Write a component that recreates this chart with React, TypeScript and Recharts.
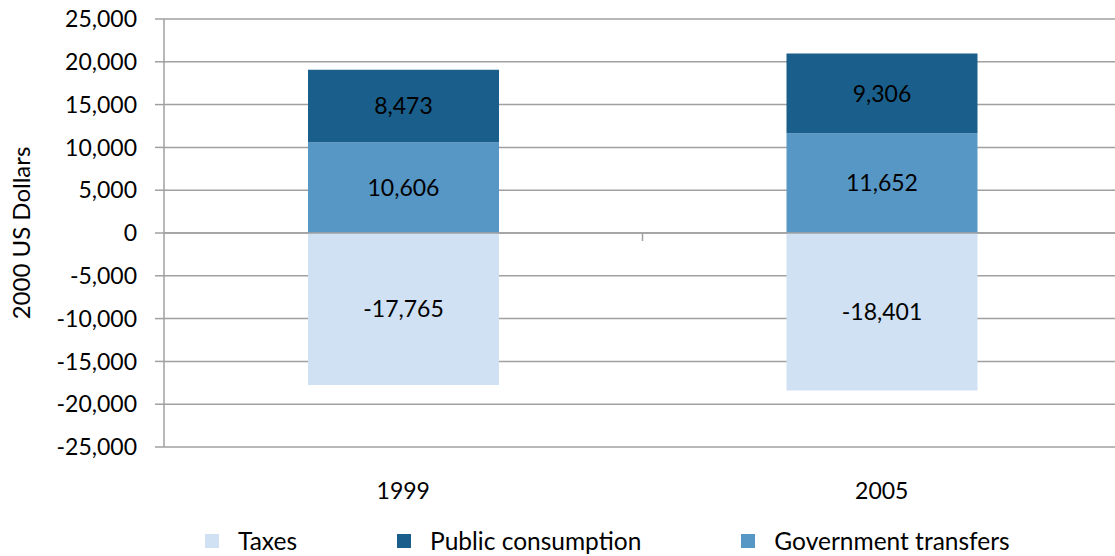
import React from "react";
import {
  Bar,
  BarChart,
  CartesianGrid,
  LabelList,
  ReferenceLine,
  XAxis,
  YAxis,
} from "recharts";

const years = ["1999", "2005"];
const taxes = [-17765, -18401];
const transfers = [10606, 11652];
const consumption = [8473, 9306];
const yTicks = [-25000, -20000, -15000, -10000, -5000, 0, 5000, 10000, 15000, 20000, 25000];

const SERIES = [
  { key: "taxes", name: "Taxes", color: "#cfe1f2" },
  { key: "consumption", name: "Public consumption", color: "#1a5f8b" },
  { key: "transfers", name: "Government transfers", color: "#5797c6" },
];

const FONT = "Lato, 'Noto Sans', sans-serif";
const GRID = "#a0a0a0";

const data = years.map((year, i) => ({
  year,
  taxes: taxes[i],
  transfers: transfers[i],
  consumption: consumption[i],
}));

const fmt = (v: number) => v.toLocaleString("en-US");

// zero line with the small category-separator tick in the middle
const ZeroLine = (props: any) => {
  const { x1, x2, y1 } = props;
  const mid = (x1 + x2) / 2;
  return (
    <g>
      <line x1={x1} x2={x2} y1={y1} y2={y1} stroke={GRID} strokeWidth={1.5} />
      <line x1={mid} x2={mid} y1={y1} y2={y1 + 8} stroke={GRID} strokeWidth={1.5} />
    </g>
  );
};

const YLabel = (props: any) => {
  const { viewBox } = props;
  const cx = viewBox.x + 20;
  const cy = viewBox.y + viewBox.height / 2;
  return (
    <text
      x={cx}
      y={cy}
      transform={`rotate(-90 ${cx} ${cy})`}
      textAnchor="middle"
      dominantBaseline="central"
      fill="#000"
      fontSize={24}
    >
      2000 US Dollars
    </text>
  );
};

export default function App() {
  return (
    <div
      style={{
        position: "absolute",
        left: 0,
        top: 0,
        width: 1115,
        height: 556,
        overflow: "hidden",
        fontFamily: FONT,
        background: "#fff",
      }}
    >
      <BarChart
        width={1121}
        height={556}
        data={data}
        stackOffset="sign"
        margin={{ top: 19, right: 0, bottom: 79, left: 0 }}
      >
        <CartesianGrid vertical={false} stroke={GRID} strokeWidth={1.5} />
        <XAxis
          dataKey="year"
          height={30}
          axisLine={false}
          tickLine={false}
          tickSize={0}
          tickMargin={36}
          tick={{ fill: "#000", fontSize: 23 }}
        />
        <YAxis
          width={164}
          domain={[-25000, 25000]}
          ticks={yTicks}
          interval={0}
          tickFormatter={fmt}
          axisLine={{ stroke: GRID, strokeWidth: 1.5 }}
          tickLine={{ stroke: GRID, strokeWidth: 1.5 }}
          tickSize={9}
          tickMargin={18}
          tick={{ fill: "#000", fontSize: 23 }}
          label={<YLabel />}
        />
        <ReferenceLine y={0} shape={<ZeroLine />} />
        <Bar dataKey="taxes" stackId="a" fill="#cfe1f2" barSize={191} isAnimationActive={false}>
          <LabelList dataKey="taxes" position="center" formatter={(v: any) => fmt(v)} fill="#000" fontSize={23} />
        </Bar>
        <Bar dataKey="transfers" stackId="a" fill="#5797c6" barSize={191} isAnimationActive={false}>
          <LabelList dataKey="transfers" position="center" formatter={(v: any) => fmt(v)} fill="#000" fontSize={23} />
        </Bar>
        <Bar dataKey="consumption" stackId="a" fill="#1a5f8b" barSize={191} isAnimationActive={false}>
          <LabelList dataKey="consumption" position="center" formatter={(v: any) => fmt(v)} fill="#000" fontSize={23} />
        </Bar>
      </BarChart>
      <div
        style={{
          position: "absolute",
          left: 205,
          top: 527,
          display: "flex",
          alignItems: "center",
          whiteSpace: "nowrap",
          fontSize: 24.5,
          color: "#000",
          lineHeight: "28px",
        }}
      >
        {SERIES.map((s) => (
          <div key={s.key} style={{ display: "flex", alignItems: "center", marginRight: 100, flexShrink: 0 }}>
            <span style={{ width: 14, height: 14, background: s.color, display: "inline-block", marginRight: 19 }} />
            <span>{s.name}</span>
          </div>
        ))}
      </div>
    </div>
  );
}
